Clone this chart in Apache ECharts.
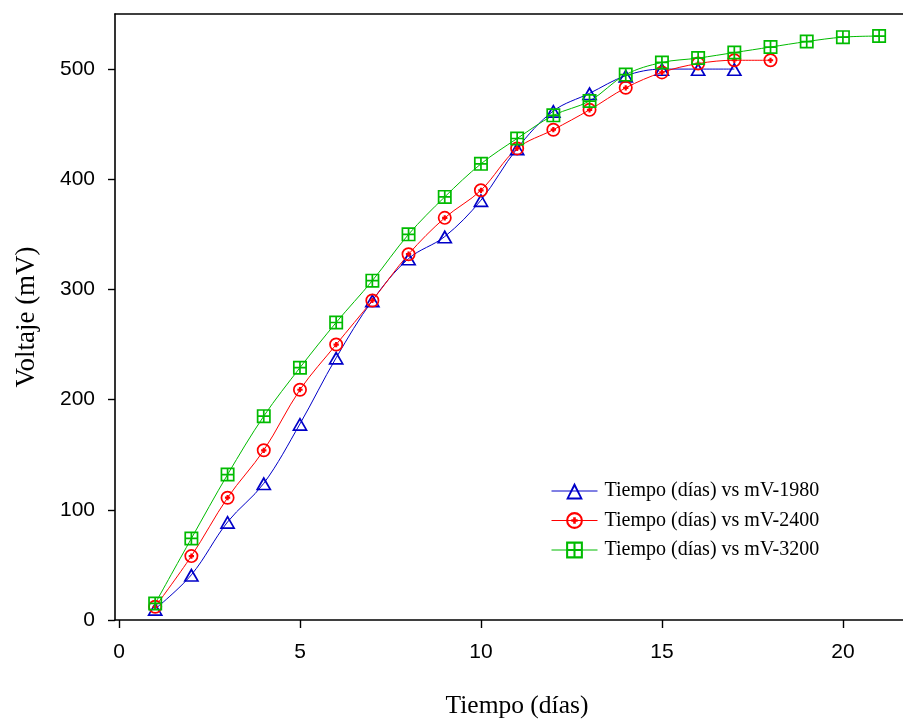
<!DOCTYPE html>
<html>
<head>
<meta charset="utf-8">
<script src="https://cdn.jsdelivr.net/npm/echarts@6/dist/echarts.min.js"></script>
<style>
  html, body { margin: 0; padding: 0; background: #fff; }
  #chart { width: 903px; height: 720px; }
</style>
</head>
<body>
<div id="chart"></div>
<script>
// days on the x axis
const dias1980 = [1, 2, 3, 4, 5, 6, 7, 8, 9, 10, 11, 12, 13, 14, 15, 16, 17]
const dias2400 = [1, 2, 3, 4, 5, 6, 7, 8, 9, 10, 11, 12, 13, 14, 15, 16, 17, 18]
const dias3200 = [1, 2, 3, 4, 5, 6, 7, 8, 9, 10, 11, 12, 13, 14, 15, 16, 17, 18, 19, 20, 21]

// voltage readings (mV)
const mv1980 = [10, 41, 89, 124, 178, 238, 290, 328, 348, 381, 428, 462, 478, 494, 500, 500, 500]
const mv2400 = [12, 58, 111, 154, 209, 250, 290, 332, 365, 390, 428, 445, 463, 483, 497, 505, 508, 508]
const mv3200 = [15, 74, 132, 185, 229, 270, 308, 350, 384, 414, 437, 458, 471, 495, 506, 510, 515, 520, 525, 529, 530]

const seriesNames = [
  'Tiempo (días) vs mV-1980',
  'Tiempo (días) vs mV-2400',
  'Tiempo (días) vs mV-3200'
]
const xTicks = [0, 5, 10, 15, 20]
const yTicks = [0, 100, 200, 300, 400, 500]

// marker shapes (filled with nonzero winding so the holes stay open)
const triSymbol = 'path://M10 1 L19 18 L1 18 Z M10 5.4 L4.2 16 L15.8 16 Z'
const ringSymbol = 'path://M1 10 A9 9 0 1 1 19 10 A9 9 0 1 1 1 10 Z ' +
  'M3.2 10 A6.8 6.8 0 1 0 16.8 10 A6.8 6.8 0 1 0 3.2 10 Z ' +
  'M8.6 6.6 L11.4 6.6 L11.4 8.6 L13.4 8.6 L13.4 11.4 L11.4 11.4 L11.4 13.4 L8.6 13.4 L8.6 11.4 L6.6 11.4 L6.6 8.6 L8.6 8.6 Z'
const gridSymbol = 'path://M1 1 L19 1 L19 19 L1 19 Z M3.2 3.2 L3.2 16.8 L16.8 16.8 L16.8 3.2 Z ' +
  'M8.9 3.2 L11.1 3.2 L11.1 16.8 L8.9 16.8 Z M3.2 8.9 L16.8 8.9 L16.8 11.1 L3.2 11.1 Z'

function pairs (xs, ys) {
  return xs.map((x, i) => [x, ys[i]])
}

function makeSeries (name, data, color, symbol, size) {
  return {
    name: name,
    type: 'line',
    data: data,
    smooth: 0.35,
    symbol: symbol,
    symbolSize: size,
    showAllSymbol: true,
    lineStyle: { color: color, width: 1 },
    itemStyle: { color: color },
    emphasis: { disabled: true }
  }
}

const chart = echarts.init(document.getElementById('chart'), null, { renderer: 'canvas' })

const axisFont = { fontFamily: 'Liberation Sans, Arial, sans-serif', fontSize: 21, color: '#000' }
const serif = 'Liberation Serif, Times New Roman, serif'

chart.setOption({
  animation: false,
  backgroundColor: '#fff',
  grid: { left: 115, right: 0, top: 14, bottom: 100, containLabel: false, outerBoundsMode: 'none' },
  legend: {
    orient: 'vertical',
    left: 546,
    top: 476,
    itemWidth: 46,
    itemHeight: 21,
    itemGap: 9.5,
    data: seriesNames,
    lineStyle: { width: 1 },
    textStyle: { fontFamily: serif, fontSize: 20, color: '#000', padding: [0, 0, 0, 2] }
  },
  xAxis: [
    {
      type: 'value',
      min: -0.11,
      max: 21.66,
      name: 'Tiempo (días)',
      nameLocation: 'middle',
      nameGap: 73,
      nameTextStyle: { fontFamily: serif, fontSize: 25.5, color: '#000', padding: [0, 0, 0, 16] },
      axisLine: { show: true, onZero: false, lineStyle: { color: '#000', width: 1.6 } },
      axisTick: { show: true, length: 8, customValues: xTicks, lineStyle: { color: '#000', width: 1.4 } },
      axisLabel: { customValues: xTicks, margin: 22, ...axisFont },
      splitLine: { show: false }
    },
    {
      type: 'value',
      position: 'top',
      min: -0.11,
      max: 21.66,
      axisLine: { show: true, onZero: false, lineStyle: { color: '#000', width: 1.6 } },
      axisTick: { show: false },
      axisLabel: { show: false },
      splitLine: { show: false }
    }
  ],
  yAxis: {
    type: 'value',
    min: 0,
    max: 550,
    name: 'Voltaje (mV)',
    nameLocation: 'middle',
    nameGap: 75,
    nameTextStyle: { fontFamily: serif, fontSize: 27, color: '#000' },
    axisLine: { show: true, onZero: false, lineStyle: { color: '#000', width: 1.6 } },
    axisTick: { show: true, length: 7, customValues: yTicks, lineStyle: { color: '#000', width: 1.4 } },
    axisLabel: { customValues: yTicks, margin: 20, ...axisFont },
    splitLine: { show: false }
  },
  series: [
    makeSeries(seriesNames[0], pairs(dias1980, mv1980), '#0000c8', triSymbol, [16, 14]),
    makeSeries(seriesNames[1], pairs(dias2400, mv2400), '#ff0000', ringSymbol, 14),
    makeSeries(seriesNames[2], pairs(dias3200, mv3200), '#00bb00', gridSymbol, 14)
  ]
})
</script>
</body>
</html>
